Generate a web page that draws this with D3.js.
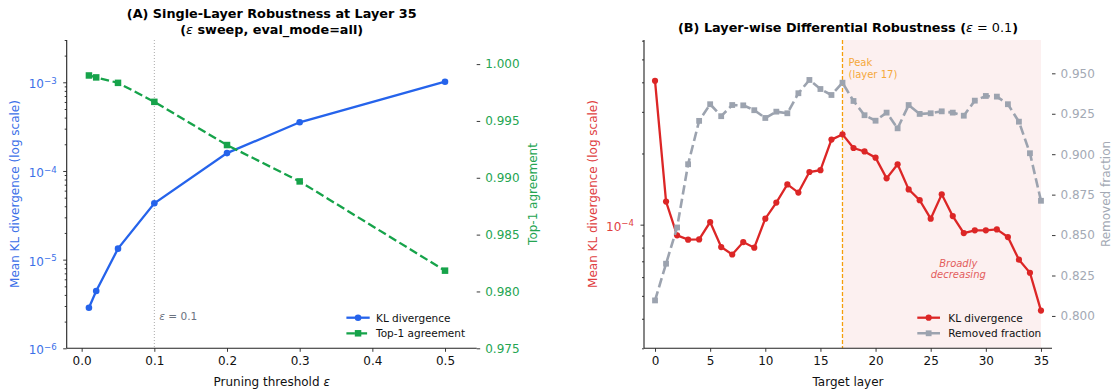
<!DOCTYPE html>
<html><head><meta charset="utf-8">
<script src="https://cdn.jsdelivr.net/npm/d3@7/dist/d3.min.js"></script>
<style>
body{margin:0;background:#fff}
svg{font-family:"DejaVu Sans",sans-serif}
</style></head>
<body><svg id="c" width="1115" height="389"></svg>
<script>
// ---------- DATA ----------
const epsValues = [0.01, 0.02, 0.05, 0.1, 0.2, 0.3, 0.5];
const klByEps = [2.87e-6, 4.43e-6, 1.33e-5, 4.32e-5, 1.59e-4, 3.54e-4, 1.016e-3];
const top1ByEps = [0.99900, 0.99883, 0.99835, 0.99668, 0.99288, 0.98968, 0.98183];

const layers = [0,1,2,3,4,5,6,7,8,9,10,11,12,13,14,15,16,17,18,19,20,21,22,23,24,25,26,27,28,29,30,31,32,33,34,35];
const klByLayer = [4.06e-4, 1.252e-4, 9.01e-5, 8.64e-5, 8.66e-5, 1.026e-4, 8.04e-5, 7.48e-5, 8.44e-5, 7.99e-5,
  1.06e-4, 1.24e-4, 1.48e-4, 1.367e-4, 1.67e-4, 1.70e-4, 2.29e-4, 2.41e-4, 2.11e-4, 2.04e-4,
  1.92e-4, 1.57e-4, 1.80e-4, 1.41e-4, 1.27e-4, 1.06e-4, 1.344e-4, 1.087e-4, 9.21e-5, 9.46e-5,
  9.46e-5, 9.55e-5, 8.86e-5, 7.11e-5, 6.26e-5, 4.33e-5];
const removedFraction = [0.8096, 0.8323, 0.8547, 0.8938, 0.9206, 0.9309, 0.9235, 0.9304, 0.9302, 0.9272,
  0.9224, 0.9263, 0.9253, 0.9377, 0.9459, 0.9403, 0.9366, 0.9442, 0.9329, 0.9241,
  0.9207, 0.9257, 0.9160, 0.9304, 0.9249, 0.9253, 0.9265, 0.9257, 0.9238, 0.9331,
  0.9360, 0.9356, 0.9309, 0.9201, 0.9006, 0.8712];

const epsTicks = [0.0, 0.1, 0.2, 0.3, 0.4, 0.5];
const klEpsMajor = [1e-6, 1e-5, 1e-4, 1e-3];
const top1Ticks = [0.975, 0.980, 0.985, 0.990, 0.995, 1.000];
const layerTicks = [0, 5, 10, 15, 20, 25, 30, 35];
const klLayerMajor = [1e-4];
const removedTicks = [0.800, 0.825, 0.850, 0.875, 0.900, 0.925, 0.950];
const markerEps = 0.1;
const peakLayer = 17;

// ---------- STYLE ----------
const C = {
  blue: "#2563eb", blueText: "#3b6fe8",
  green: "#16a34a", greenText: "#25a552",
  red: "#dc2626", redText: "#e0403f",
  gray: "#9ca3af", grayText: "#a3a9b4",
  orange: "#f59e0b", orangeText: "#f5a83a",
  shade: "#fcf0f0"
};
const TICK_FS = 12, LABEL_FS = 12, TITLE_FS = 12.8, LEG_FS = 10.5;

const svg = d3.select("#c");
const plotTop = 40, plotBottom = 348.3;

function minorLogTicks(lo, hi) {
  const out = [];
  for (let e = Math.floor(Math.log10(lo)); e <= Math.ceil(Math.log10(hi)); e++) {
    for (let m = 2; m <= 9; m++) {
      const v = m * Math.pow(10, e);
      if (v >= lo * 0.999 && v <= hi * 1.001) out.push(v);
    }
  }
  return out;
}
function supLabel(g, v) {
  const e = Math.round(Math.log10(v));
  const t = g.append("text");
  t.append("tspan").text("10");
  t.append("tspan").attr("dy", "-0.5em").attr("font-size", "0.72em").text("\u2212" + Math.abs(e));
  return t;
}
function styleAxis(g) {
  g.select(".domain").remove();
  g.selectAll(".tick line").attr("stroke", "#222").attr("stroke-width", 0.9);
  g.selectAll(".tick text").attr("font-size", TICK_FS).attr("font-family", "DejaVu Sans");
}
function spine(x1, y1, x2, y2) {
  svg.append("line").attr("x1", x1).attr("y1", y1).attr("x2", x2).attr("y2", y2)
    .attr("stroke", "#222").attr("stroke-width", 1.1);
}
function square(g, x, y, s, color) {
  g.append("rect").attr("x", x - s / 2).attr("y", y - s / 2).attr("width", s).attr("height", s).attr("fill", color);
}

// ================= PANEL A =================
(function () {
  const L = 66.7, R = 476.7;
  const x = d3.scaleLinear().domain([-0.0206, 0.5436]).range([L, R]);
  const yK = d3.scaleLog().domain([1e-6, 3.0e-3]).range([plotBottom, plotTop]);
  const yT = d3.scaleLinear().domain([0.975, 1.00212]).range([plotBottom, plotTop]);

  svg.append("line").attr("x1", x(markerEps)).attr("x2", x(markerEps)).attr("y1", plotTop).attr("y2", plotBottom)
    .attr("stroke", "#aaa").attr("stroke-width", 1).attr("stroke-dasharray", "1,2");
  svg.append("text").attr("x", x(markerEps) + 5).attr("y", 320).attr("font-size", 10.5).attr("fill", "#6b7280")
    .html('<tspan font-style="italic">\u03b5</tspan> = 0.1');

  const gx = svg.append("g").attr("transform", `translate(0,${plotBottom})`)
    .call(d3.axisBottom(x).tickValues(epsTicks).tickFormat(d3.format(".1f")).tickSize(3.5).tickPadding(5));
  styleAxis(gx); gx.selectAll(".tick text").attr("fill", "#111");

  const gyMin = svg.append("g").attr("transform", `translate(${L},0)`)
    .call(d3.axisLeft(yK).tickValues(minorLogTicks(1e-6, 3e-3)).tickFormat("").tickSize(2));
  styleAxis(gyMin);
  const gy = svg.append("g").attr("transform", `translate(${L},0)`)
    .call(d3.axisLeft(yK).tickValues(klEpsMajor).tickFormat("").tickSize(3.5));
  styleAxis(gy);
  klEpsMajor.forEach(v => {
    supLabel(svg, v).attr("x", L - 38).attr("y", yK(v) + 6).attr("font-size", TICK_FS).attr("fill", C.blueText);
  });

  const gyR = svg.append("g").attr("transform", `translate(${R},0)`)
    .call(d3.axisRight(yT).tickValues(top1Ticks).tickFormat(d3.format(".3f")).tickSize(3.5).tickPadding(5));
  styleAxis(gyR); gyR.selectAll(".tick text").attr("fill", C.greenText);

  spine(L, plotTop, L, plotBottom); spine(L, plotBottom, R, plotBottom);

  const lineK = d3.line().x((d, i) => x(epsValues[i])).y(d => yK(d));
  svg.append("path").datum(klByEps).attr("d", lineK).attr("fill", "none").attr("stroke", C.blue).attr("stroke-width", 2.3);
  svg.selectAll(".kA").data(klByEps).enter().append("circle")
    .attr("cx", (d, i) => x(epsValues[i])).attr("cy", d => yK(d)).attr("r", 3.3).attr("fill", C.blue);

  const lineT = d3.line().x((d, i) => x(epsValues[i])).y(d => yT(d));
  svg.append("path").datum(top1ByEps).attr("d", lineT).attr("fill", "none").attr("stroke", C.green)
    .attr("stroke-width", 2.3).attr("stroke-dasharray", "8.5,3.7");
  const gsq = svg.append("g");
  top1ByEps.forEach((d, i) => square(gsq, x(epsValues[i]), yT(d), 6.5, C.green));

  svg.append("text").attr("x", (L + R) / 2).attr("y", 386).attr("text-anchor", "middle").attr("font-size", LABEL_FS)
    .attr("fill", "#111").html('Pruning threshold <tspan font-style="italic">\u03b5</tspan>');
  svg.append("text").attr("transform", `translate(19,194) rotate(-90)`).attr("text-anchor", "middle")
    .attr("font-size", LABEL_FS).attr("fill", C.blueText).text("Mean KL divergence (log scale)");
  svg.append("text").attr("transform", `translate(537,194) rotate(-90)`).attr("text-anchor", "middle")
    .attr("font-size", LABEL_FS).attr("fill", C.greenText).text("Top-1 agreement");

  svg.append("text").attr("x", (L + R) / 2).attr("y", 17.5).attr("text-anchor", "middle").attr("font-size", TITLE_FS)
    .attr("font-weight", "bold").text("(A) Single-Layer Robustness at Layer 35");
  svg.append("text").attr("x", (L + R) / 2).attr("y", 34).attr("text-anchor", "middle").attr("font-size", TITLE_FS)
    .attr("font-weight", "bold")
    .html('(<tspan font-style="italic" font-weight="normal">\u03b5</tspan> sweep, eval_mode=all)');

  const lg = svg.append("g");
  const lx = 346.4, lw = 23.3;
  lg.append("line").attr("x1", lx).attr("x2", lx + lw).attr("y1", 317.7).attr("y2", 317.7).attr("stroke", C.blue).attr("stroke-width", 2.3);
  lg.append("circle").attr("cx", lx + lw / 2).attr("cy", 317.7).attr("r", 3.3).attr("fill", C.blue);
  lg.append("text").attr("x", 376).attr("y", 321.5).attr("font-size", LEG_FS).attr("fill", "#111").text("KL divergence");
  lg.append("line").attr("x1", lx).attr("x2", lx + lw).attr("y1", 333.3).attr("y2", 333.3).attr("stroke", C.green)
    .attr("stroke-width", 2.3).attr("stroke-dasharray", "8.5,3.7");
  square(lg, lx + lw / 2, 333.3, 6.5, C.green);
  lg.append("text").attr("x", 376).attr("y", 337.1).attr("font-size", LEG_FS).attr("fill", "#111").text("Top-1 agreement");
})();

// ================= PANEL B =================
(function () {
  const L = 644, R = 1052;
  const x = d3.scaleLinear().domain([-1, 36]).range([L, R]);
  const yK = d3.scaleLog().domain([3.0e-5, 6.04e-4]).range([plotBottom, plotTop]);
  const yF = d3.scaleLinear().domain([0.780, 0.9706]).range([plotBottom, plotTop]);

  svg.append("rect").attr("x", x(peakLayer)).attr("y", plotTop).attr("width", x(35) - x(peakLayer))
    .attr("height", plotBottom - plotTop).attr("fill", C.shade);

  svg.append("line").attr("x1", x(peakLayer)).attr("x2", x(peakLayer)).attr("y1", plotTop).attr("y2", plotBottom)
    .attr("stroke", C.orange).attr("stroke-width", 1.3).attr("stroke-dasharray", "4,2");
  const pk = svg.append("text").attr("x", x(peakLayer) + 6).attr("y", 66).attr("font-size", 10).attr("fill", C.orangeText);
  pk.append("tspan").text("Peak");
  pk.append("tspan").attr("x", x(peakLayer) + 6).attr("dy", 11.5).text("(layer 17)");

  const bd = svg.append("text").attr("x", 958.3).attr("y", 266.5).attr("text-anchor", "middle").attr("font-size", 10)
    .attr("font-style", "italic").attr("fill", "#e35d5d");
  bd.append("tspan").text("Broadly");
  bd.append("tspan").attr("x", 958.3).attr("dy", 11.5).text("decreasing");

  const gx = svg.append("g").attr("transform", `translate(0,${plotBottom})`)
    .call(d3.axisBottom(x).tickValues(layerTicks).tickFormat(d3.format("d")).tickSize(3.5).tickPadding(5));
  styleAxis(gx); gx.selectAll(".tick text").attr("fill", "#111");

  const gyMin = svg.append("g").attr("transform", `translate(${L},0)`)
    .call(d3.axisLeft(yK).tickValues(minorLogTicks(3.0e-5, 6.04e-4)).tickFormat("").tickSize(2));
  styleAxis(gyMin);
  const gy = svg.append("g").attr("transform", `translate(${L},0)`)
    .call(d3.axisLeft(yK).tickValues(klLayerMajor).tickFormat("").tickSize(3.5));
  styleAxis(gy);
  klLayerMajor.forEach(v => {
    supLabel(svg, v).attr("x", L - 38).attr("y", yK(v) + 6).attr("font-size", TICK_FS).attr("fill", C.redText);
  });

  const gyR = svg.append("g").attr("transform", `translate(${R},0)`)
    .call(d3.axisRight(yF).tickValues(removedTicks).tickFormat(d3.format(".3f")).tickSize(3.5).tickPadding(5));
  styleAxis(gyR); gyR.selectAll(".tick text").attr("fill", C.grayText);

  spine(L, plotTop, L, plotBottom); spine(L, plotBottom, R, plotBottom);

  const lineK = d3.line().x((d, i) => x(layers[i])).y(d => yK(d));
  svg.append("path").datum(klByLayer).attr("d", lineK).attr("fill", "none").attr("stroke", C.red).attr("stroke-width", 2.3);
  svg.selectAll(".kB").data(klByLayer).enter().append("circle")
    .attr("cx", (d, i) => x(layers[i])).attr("cy", d => yK(d)).attr("r", 3.1).attr("fill", C.red);

  const lineF = d3.line().x((d, i) => x(layers[i])).y(d => yF(d));
  svg.append("path").datum(removedFraction).attr("d", lineF).attr("fill", "none").attr("stroke", C.gray)
    .attr("stroke-width", 2.6).attr("stroke-dasharray", "9.5,4.2");
  const gsq = svg.append("g");
  removedFraction.forEach((d, i) => square(gsq, x(layers[i]), yF(d), 5.8, C.gray));

  svg.append("text").attr("x", (L + R) / 2).attr("y", 386).attr("text-anchor", "middle").attr("font-size", LABEL_FS)
    .attr("fill", "#111").text("Target layer");
  svg.append("text").attr("transform", `translate(597,194) rotate(-90)`).attr("text-anchor", "middle")
    .attr("font-size", LABEL_FS).attr("fill", C.redText).text("Mean KL divergence (log scale)");
  svg.append("text").attr("transform", `translate(1110,194) rotate(-90)`).attr("text-anchor", "middle")
    .attr("font-size", LABEL_FS).attr("fill", C.grayText).text("Removed fraction");

  svg.append("text").attr("x", (L + R) / 2).attr("y", 32).attr("text-anchor", "middle").attr("font-size", TITLE_FS)
    .attr("font-weight", "bold")
    .html('(B) Layer-wise Differential Robustness (<tspan font-style="italic" font-weight="normal">\u03b5</tspan><tspan font-weight="normal"> = 0.1</tspan>)');

  const lg = svg.append("g");
  const lx = 917.3, lw = 22.7;
  lg.append("line").attr("x1", lx).attr("x2", lx + lw).attr("y1", 317.7).attr("y2", 317.7).attr("stroke", C.red).attr("stroke-width", 2.3);
  lg.append("circle").attr("cx", lx + lw / 2).attr("cy", 317.7).attr("r", 3.1).attr("fill", C.red);
  lg.append("text").attr("x", 948.3).attr("y", 321.5).attr("font-size", LEG_FS).attr("fill", "#111").text("KL divergence");
  lg.append("line").attr("x1", lx).attr("x2", lx + lw).attr("y1", 333.3).attr("y2", 333.3).attr("stroke", C.gray)
    .attr("stroke-width", 2.6).attr("stroke-dasharray", "9.5,4.2");
  square(lg, lx + lw / 2, 333.3, 5.8, C.gray);
  lg.append("text").attr("x", 948.3).attr("y", 337.1).attr("font-size", LEG_FS).attr("fill", "#111").text("Removed fraction");
})();
</script></body></html>
